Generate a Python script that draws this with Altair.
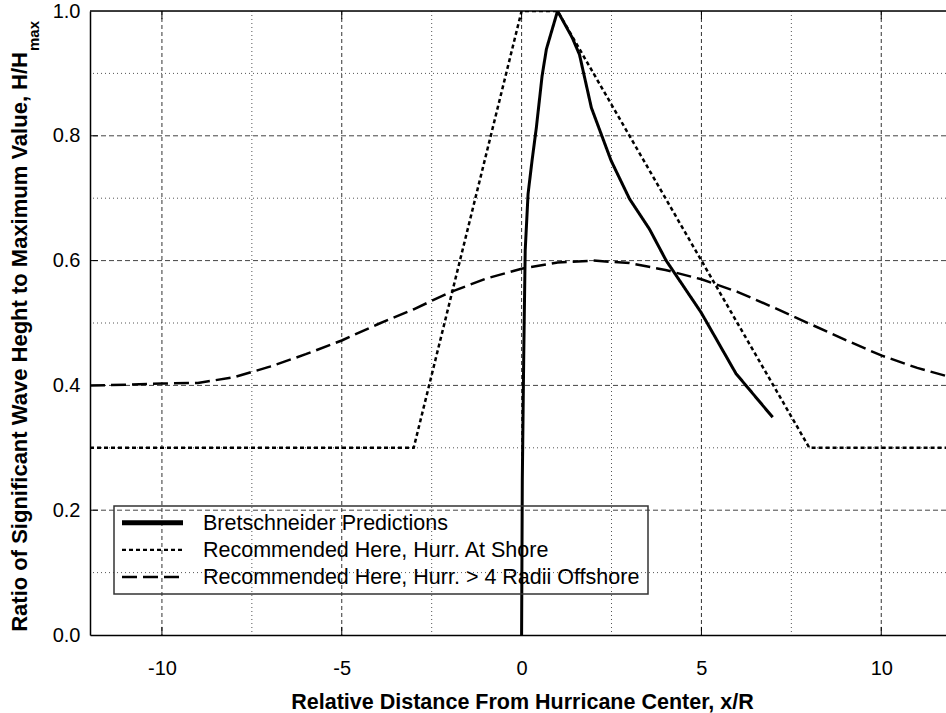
import altair as alt
import pandas as pd

# ---------------- data ----------------
series_names = [
    "Bretschneider Predictions",
    "Recommended Here, Hurr. At Shore",
    "Recommended Here, Hurr. > 4 Radii Offshore",
]

bret_x = [0.0, 0.02, 0.06, 0.10, 0.18, 0.29, 0.41, 0.57, 0.69, 1.0, 1.41, 1.61,
          1.94, 2.49, 3.0, 3.56, 4.02, 4.99, 5.96, 6.98]
bret_y = [0.0, 0.25, 0.45, 0.616, 0.707, 0.76, 0.813, 0.896, 0.939, 1.0, 0.957,
          0.93, 0.845, 0.76, 0.699, 0.65, 0.60, 0.517, 0.419, 0.349]

shore_x = [-12, -3, 0, 1, 8, 12]
shore_y = [0.3, 0.3, 1.0, 1.0, 0.3, 0.3]

off_x = [-12, -11, -10, -9, -8, -7, -6, -5, -4, -3, -2, -1, 0, 1, 2, 3, 4, 5,
         6, 7, 8, 9, 10, 11, 12]
off_y = [0.400, 0.401, 0.403, 0.404, 0.413, 0.430, 0.450, 0.472, 0.498, 0.522,
         0.549, 0.571, 0.587, 0.597, 0.600, 0.596, 0.585, 0.570, 0.550, 0.525,
         0.499, 0.473, 0.448, 0.428, 0.412]

x_major = [-10, -5, 0, 5, 10]
x_minor = [-7.5, -2.5, 2.5, 7.5]
y_major = [0.2, 0.4, 0.6, 0.8]
y_minor = [0.1, 0.3, 0.5, 0.7, 0.9]
y_labels = [0.0, 0.2, 0.4, 0.6, 0.8, 1.0]

x_domain = [-12, 11.8]
y_domain = [0, 1]

FONT = "Liberation Sans"

# styles per series
dashes = [[1, 0], [4, 3], [15, 6]]
widths = [3, 2.5, 2.5]
legend_widths = [5, 2.3, 2.5]

rows = []
for name, xs_, ys_ in zip(series_names, [bret_x, shore_x, off_x], [bret_y, shore_y, off_y]):
    for i, (a, b) in enumerate(zip(xs_, ys_)):
        rows.append({"series": name, "x": a, "y": b, "i": i})
lines_df = pd.DataFrame(rows)

xs = alt.Scale(domain=x_domain, nice=False, zero=False)
ys = alt.Scale(domain=y_domain, nice=False, zero=False)

x_axis = alt.Axis(
    values=x_major, labelExpr="'' + datum.value",
    title="Relative Distance From Hurricane Center, x/R",
    grid=False, ticks=False, tickSize=0, labelFontSize=20, labelFont=FONT,
    labelColor="black", labelPadding=23, labelBaseline="top",
    domainColor="black", domainWidth=1.5,
    titleFontSize=21.5, titleFont=FONT, titleFontWeight="bold", titleColor="black",
    titleX=432, titleY=73, titleBaseline="alphabetic", titleAlign="center",
)
y_axis = alt.Axis(
    values=y_labels, format=".1f", title=None, grid=False, ticks=False,
    tickSize=0, labelFontSize=20, labelFont=FONT, labelColor="black",
    labelPadding=10, domainColor="black", domainWidth=1.5,
)

X = lambda: alt.X("x:Q", scale=xs, axis=x_axis)
Y = lambda: alt.Y("y:Q", scale=ys, axis=y_axis)

# ---------------- layers ----------------
lines = alt.Chart(lines_df).mark_line(clip=True).encode(
    x=X(), y=Y(), order="i:Q",
    color=alt.Color("series:N", scale=alt.Scale(domain=series_names,
                    range=["black", "black", "black"]), legend=None),
    strokeDash=alt.StrokeDash("series:N", scale=alt.Scale(domain=series_names,
                    range=dashes), legend=None),
    strokeWidth=alt.StrokeWidth("series:N", scale=alt.Scale(type="ordinal", domain=series_names,
                    range=widths), legend=None),
)

vminor = alt.Chart(pd.DataFrame({"x": x_minor})).mark_rule(
    color="#555", strokeDash=[1, 3], strokeWidth=1
).encode(x=X())

hminor = alt.Chart(pd.DataFrame({"y": y_minor})).mark_rule(
    color="#555", strokeDash=[1, 3], strokeWidth=1
).encode(y=Y())

vmajor = alt.Chart(pd.DataFrame({"x": x_major})).mark_rule(
    color="#333", strokeDash=[4, 3], strokeWidth=1
).encode(x=X())

hmajor = alt.Chart(pd.DataFrame({"y": y_major})).mark_rule(
    color="#444", strokeDash=[5, 3], strokeWidth=1
).encode(y=Y())

top_frame = alt.Chart(pd.DataFrame({"y": [y_domain[1]]})).mark_rule(
    color="black", strokeWidth=1.5
).encode(y=Y())

tick_len_y = 0.013
tick_len_x = 0.22
bottom_ticks = alt.Chart(pd.DataFrame({"x": x_major})).mark_rule(
    color="black", strokeWidth=1
).encode(x=X(), y=alt.datum(y_domain[0]), y2=alt.datum(y_domain[0] + tick_len_y))
top_ticks = alt.Chart(pd.DataFrame({"x": x_major})).mark_rule(
    color="black", strokeWidth=1
).encode(x=X(), y=alt.datum(y_domain[1]), y2=alt.datum(y_domain[1] - tick_len_y))
left_ticks = alt.Chart(pd.DataFrame({"y": y_major})).mark_rule(
    color="black", strokeWidth=1
).encode(y=Y(), x=alt.datum(x_domain[0]), x2=alt.datum(x_domain[0] + tick_len_x))

one = alt.Data(values=[{}])
ytitle_main = alt.Chart(one).mark_text(
    text="Ratio of Significant Wave Heght to Maximum Value, H/H",
    angle=270, align="right", baseline="middle", fontSize=22,
    fontWeight="bold", font=FONT, color="black",
).encode(x=alt.value(-70), y=alt.value(41))
ytitle_sub = alt.Chart(one).mark_text(
    text="max", angle=270, align="left", baseline="middle", fontSize=15,
    fontWeight="bold", font=FONT, color="black",
).encode(x=alt.value(-56), y=alt.value(40))

# ---------------- legend (drawn as a boxed key) ----------------
leg_left, leg_right, leg_top, leg_bottom = 24, 558, 495, 583
row_y0, row_step = 511.7, 27.2
sym_x1, sym_x2, text_x = 32, 93, 113

legend_layers = [
    alt.Chart(one).mark_rect(fill=None, fillOpacity=0, stroke="#333", strokeWidth=1.5).encode(
        x=alt.value(leg_left), x2=alt.value(leg_right),
        y=alt.value(leg_top), y2=alt.value(leg_bottom))
]
for k, name in enumerate(series_names):
    ry = row_y0 + k * row_step
    legend_layers.append(
        alt.Chart(one).mark_rule(color="black", strokeDash=dashes[k],
                                 strokeWidth=legend_widths[k]).encode(
            x=alt.value(sym_x1), x2=alt.value(sym_x2), y=alt.value(ry))
    )
    legend_layers.append(
        alt.Chart(one).mark_text(text=name, align="left", baseline="middle",
                                 fontSize=21.5, font=FONT, color="black").encode(
            x=alt.value(text_x), y=alt.value(ry + 1))
    )

chart = alt.layer(
    vminor, hminor, vmajor, hmajor, top_frame,
    bottom_ticks, top_ticks, left_ticks, lines, ytitle_main, ytitle_sub,
    *legend_layers,
).properties(
    width=856, height=624, autosize="none",
    padding={"left": 90, "top": 11, "right": 0, "bottom": 78},
).configure_view(stroke=None).configure(font=FONT, background="white")

chart.save("out.html", embed_options={"renderer": "svg", "actions": False})
